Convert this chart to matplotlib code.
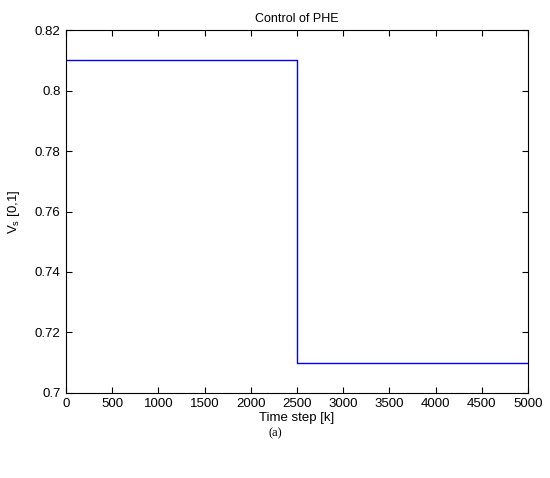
import matplotlib
matplotlib.use("Agg")
import matplotlib.pyplot as plt

# step response data
time_k = [0, 2500, 2500, 5000]
vs = [0.81, 0.81, 0.71, 0.71]

xticks = [0, 500, 1000, 1500, 2000, 2500, 3000, 3500, 4000, 4500, 5000]
yticks = [0.7, 0.72, 0.74, 0.76, 0.78, 0.8, 0.82]
ytick_labels = ["0.7", "0.72", "0.74", "0.76", "0.78", "0.8", "0.82"]

plt.rcParams['font.family'] = ['Liberation Sans', 'DejaVu Sans']

fig = plt.figure(figsize=(5.5, 4.78), dpi=100)
ax = fig.add_axes([0.12, 0.178, 0.84, 0.759])

ax.plot(time_k, vs, color="#0000ff", linewidth=1.0)

ax.set_xlim(0, 5000)
ax.set_ylim(0.7, 0.82)
ax.set_xticks(xticks)
ax.set_yticks(yticks)
ax.set_yticklabels(ytick_labels)
ax.tick_params(direction="in", top=True, right=True, labelsize=9.5, length=4, width=0.8, pad=4)
for s in ax.spines.values():
    s.set_linewidth(0.8)

ax.set_title("Control of PHE", fontsize=9, pad=6)
ax.set_xlabel("Time step [k]", fontsize=9.5, labelpad=1)
ax.set_ylabel("V$_\\mathregular{s}$ [0,1]", fontsize=9.5, labelpad=9)

fig.text(0.5, 0.094, "(a)", ha="center", va="center", fontsize=9,
         family="Liberation Serif")

fig.savefig("out.png", dpi=100)
